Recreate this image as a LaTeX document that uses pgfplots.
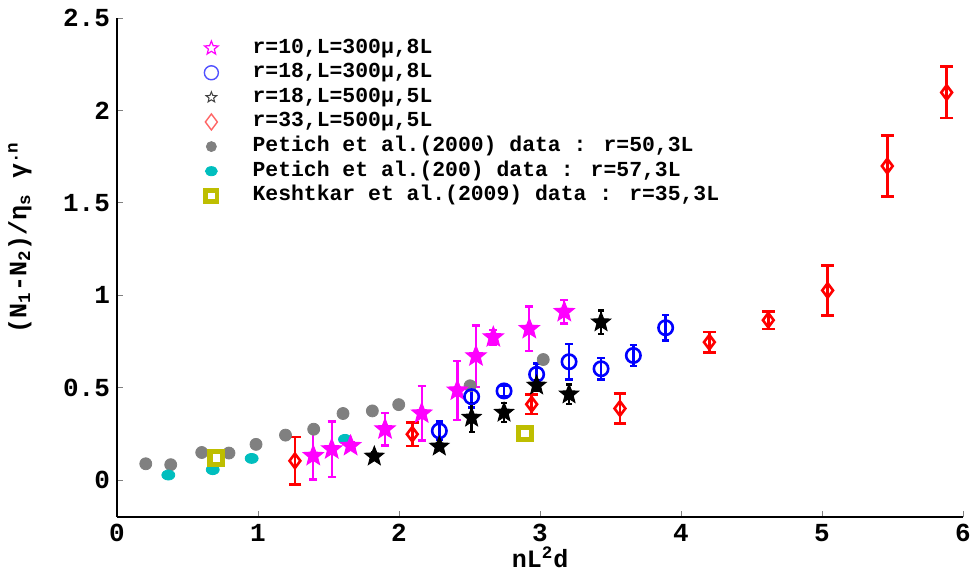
\documentclass[border=0pt]{standalone}
\usepackage{fontspec}
\setmainfont{Liberation Mono}
\usepackage{pgfplots}
\pgfplotsset{compat=1.18}
\definecolor{cgray}{RGB}{128,128,128}
\definecolor{ccyan}{RGB}{0,190,190}
\definecolor{colive}{RGB}{190,190,0}
\definecolor{lred}{RGB}{255,100,100}
\definecolor{lblue}{RGB}{80,80,255}
\definecolor{cmag}{RGB}{255,0,255}
\pgfdeclareplotmark{pent}{%
 \pgfpathmoveto{\pgfpointpolar{90}{\pgfplotmarksize}}%
 \pgfpathlineto{\pgfpointpolar{126}{0.43\pgfplotmarksize}}%
 \pgfpathlineto{\pgfpointpolar{162}{\pgfplotmarksize}}%
 \pgfpathlineto{\pgfpointpolar{198}{0.43\pgfplotmarksize}}%
 \pgfpathlineto{\pgfpointpolar{234}{\pgfplotmarksize}}%
 \pgfpathlineto{\pgfpointpolar{270}{0.43\pgfplotmarksize}}%
 \pgfpathlineto{\pgfpointpolar{306}{\pgfplotmarksize}}%
 \pgfpathlineto{\pgfpointpolar{342}{0.43\pgfplotmarksize}}%
 \pgfpathlineto{\pgfpointpolar{18}{\pgfplotmarksize}}%
 \pgfpathlineto{\pgfpointpolar{54}{0.43\pgfplotmarksize}}%
 \pgfpathclose
 \pgfusepathqfillstroke}
\begin{document}
\begin{tikzpicture}
\begin{axis}[
  scale only axis,
  width=423pt, height=249.5pt,
  xmin=0, xmax=6, ymin=-0.2, ymax=2.5,
  axis lines*=left,
  axis line style={line width=1.4pt, black},
  xtick={0,1,...,6},
  ytick={0,0.5,1,1.5,2,2.5},
  major tick length=3pt,
  tick style={gray, thin},
  /pgf/number format/assume math mode=true,
  ticklabel style={font=\fontsize{13}{15}\selectfont\bfseries},
  xlabel={nL\textsuperscript{2}d},
  ylabel={(N\textsubscript{1}-N\textsubscript{2})/η\textsubscript{s} γ\textsuperscript{.n}},
  label style={font=\fontsize{12.5}{15}\selectfont\bfseries},
  xlabel style={at={(axis description cs:0.5,0)}, anchor=center, yshift=-20pt},
  ylabel style={at={(axis description cs:-0.1147,0.56)}, anchor=center},
  legend style={draw=none, fill=none, at={(axis cs:0.50,2.42)}, anchor=north west,
    font=\fontsize{10.7}{12}\selectfont\bfseries,
    nodes={inner sep=0.5pt, text height=7.5pt, text depth=2.5pt},
    row sep=1.3pt},
  legend cell align=left,
  legend image code/.code={\draw[#1] plot coordinates {(0.3cm,0cm)}; \path (0cm,0cm) (1.0cm,0cm);},
]
\coordinate (ll) at (rel axis cs:0,0);
\coordinate (ur) at (rel axis cs:1,1);
\addlegendimage{only marks, mark=pent, mark size=3.6pt, cmag, mark options={fill=white, line width=0.6pt}}
\addlegendentry{r=10,L=300μ,8L}
\addlegendimage{only marks, mark=o, mark size=3.5pt, lblue, mark options={line width=0.7pt}}
\addlegendentry{r=18,L=300μ,8L}
\addlegendimage{only marks, mark=pent, mark size=2.8pt, black!75, mark options={fill=white, line width=0.5pt}}
\addlegendentry{r=18,L=500μ,5L}
\addlegendimage{only marks, mark=diamond, mark size=4pt, lred, mark options={fill=white, line width=0.7pt}}
\addlegendentry{r=33,L=500μ,5L}
\addlegendimage{only marks, mark=*, mark size=2.5pt, cgray}
\addlegendentry{Petich et al.(2000) data : r=50,3L}
\addlegendimage{only marks, mark=*, mark size=2.3pt, ccyan, mark options={xscale=1.3}}
\addlegendentry{Petich et al.(200) data : r=57,3L}
\addlegendimage{only marks, mark=square, mark size=2.8pt, colive, mark options={line width=2.4pt}}
\addlegendentry{Keshtkar et al.(2009) data : r=35,3L}
% Petich 2000
\addplot[forget plot, only marks, mark=*, mark size=3pt, cgray] coordinates {
(0.204,0.088) (0.381,0.083) (0.601,0.149) (0.794,0.146) (0.986,0.193) (1.195,0.243)
(1.395,0.275) (1.603,0.360) (1.811,0.374) (1.998,0.408) (2.504,0.510) (3.023,0.652)};
% Petich 200
\addplot[forget plot, only marks, mark=*, mark size=2.5pt, ccyan, mark options={xscale=1.3}] coordinates {
(0.364,0.027) (0.679,0.056) (0.955,0.117) (1.617,0.220)};
% Keshtkar
\addplot[forget plot, only marks, mark=square, mark size=3.1pt, colive, mark options={line width=2.6pt}] coordinates {
(0.704,0.119) (2.894,0.252)};
% r=10 magenta stars
\addplot[forget plot, only marks, mark=pent, mark size=5.3pt, cmag, mark options={fill=cmag, line width=0.5pt},
  error bars/.cd, y dir=both, y explicit,
  error bar style={line width=1.2pt, cmag},
  error mark options={rotate=90, mark size=2pt, line width=1.2pt, cmag}]
  table[x=x, y=y, y error=e] {
x y e
1.392 0.131 0.129
1.523 0.167 0.150
1.657 0.185 0.020
1.901 0.275 0.088
2.161 0.361 0.148
2.414 0.485 0.160
2.546 0.670 0.167
2.669 0.773 0.040
2.924 0.818 0.120
3.172 0.910 0.063
};
% r=33 red diamonds
\addplot[forget plot, only marks, mark=diamond, mark size=3.6pt, red, mark options={line width=1.3pt, fill=none},
  error bars/.cd, y dir=both, y explicit,
  error bar style={line width=1.3pt, red},
  error mark options={rotate=90, mark size=3.2pt, line width=1.3pt, red}]
  table[x=x, y=y, y error=e] {
x y e
1.262 0.104 0.128
2.094 0.248 0.063
2.941 0.410 0.052
3.567 0.387 0.081
4.201 0.746 0.056
4.619 0.865 0.048
5.040 1.026 0.135
5.463 1.699 0.165
5.884 2.097 0.139
};
% r=18 L=300 blue circles
\addplot[forget plot, only marks, mark=o, mark size=3.6pt, blue, mark options={line width=1.3pt},
  error bars/.cd, y dir=both, y explicit,
  error bar style={line width=1.3pt, blue},
  error mark options={rotate=90, mark size=1.8pt, line width=1.3pt, blue}]
  table[x=x, y=y, y error=e] {
x y e
2.286 0.266 0.050
2.515 0.451 0.060
2.745 0.482 0.030
2.976 0.572 0.058
3.206 0.640 0.097
3.433 0.602 0.058
3.662 0.674 0.057
3.891 0.824 0.070
};
% r=18 L=500 black stars
\addplot[forget plot, only marks, mark=pent, mark size=5pt, black, mark options={fill=black, line width=0.5pt},
  error bars/.cd, y dir=both, y explicit,
  error bar style={line width=1.2pt, black},
  error mark options={rotate=90, mark size=1.5pt, line width=1.2pt, black}]
  table[x=x, y=y, y error=e] {
x y e
1.825 0.128 0.020
2.286 0.182 0.020
2.515 0.338 0.077
2.745 0.365 0.052
2.976 0.512 0.030
3.206 0.464 0.053
3.433 0.854 0.064
};
\end{axis}
\pgfresetboundingbox
\path ([xshift=-58.5pt,yshift=-29.5pt]ll) rectangle ([xshift=3.5pt,yshift=9pt]ur);
\end{tikzpicture}
\end{document}
